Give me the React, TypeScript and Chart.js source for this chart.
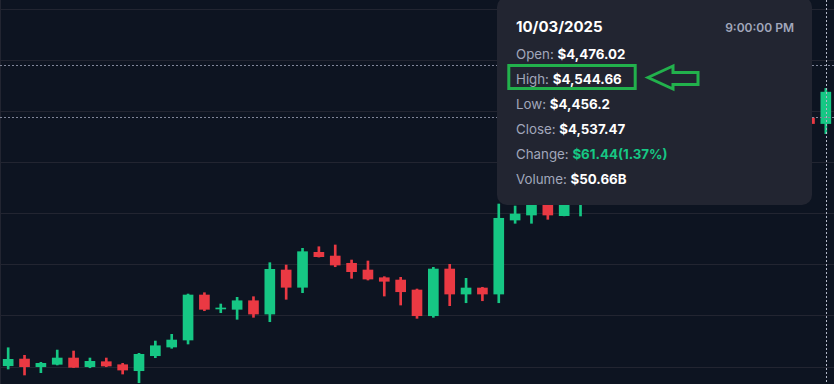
import React, { useEffect, useRef } from "react";
import { Chart, registerables } from "chart.js";

Chart.register(...registerables);

// 4h candles, Sep 25 13:00 -> Oct 3 21:00
const labels = [
  "09/25 13:00", "09/25 17:00", "09/25 21:00",
  "09/26 01:00", "09/26 05:00", "09/26 09:00", "09/26 13:00", "09/26 17:00", "09/26 21:00",
  "09/27 01:00", "09/27 05:00", "09/27 09:00", "09/27 13:00", "09/27 17:00", "09/27 21:00",
  "09/28 01:00", "09/28 05:00", "09/28 09:00", "09/28 13:00", "09/28 17:00", "09/28 21:00",
  "09/29 01:00", "09/29 05:00", "09/29 09:00", "09/29 13:00", "09/29 17:00", "09/29 21:00",
  "09/30 01:00", "09/30 05:00", "09/30 09:00", "09/30 13:00", "09/30 17:00", "09/30 21:00",
  "10/01 01:00", "10/01 05:00", "10/01 09:00", "10/01 13:00", "10/01 17:00", "10/01 21:00",
  "10/02 01:00", "10/02 05:00", "10/02 09:00", "10/02 13:00", "10/02 17:00", "10/02 21:00",
  "10/03 01:00", "10/03 05:00", "10/03 09:00", "10/03 13:00", "10/03 17:00", "10/03 21:00",
];

const opens = [
  4002.5, 4015.6, 4000.6, 4005.3, 4017.6, 4000.6, 4010.4, 4004.5, 3992.8, 4022.1,
  4039.1, 4052.8, 4140.8, 4113.5, 4112.8, 4129.6, 4103.6, 4189.7, 4155.9, 4224.3,
  4217.0, 4202.8, 4189.7, 4174.6, 4170.1, 4150.6, 4100.3, 4191.6, 4142.7, 4154.5,
  4142.7, 4287.4, 4297.2, 4318.5, 4295.9, 4320.0, 4335.0, 4360.0, 4352.0, 4380.0,
  4402.0, 4395.0, 4420.0, 4445.0, 4438.0, 4465.0, 4478.0, 4470.0, 4492.0, 4487.0,
  4476.02,
];
const highs = [
  4037.7, 4022.9, 4009.2, 4033.2, 4031.3, 4017.6, 4017.6, 4007.2, 4026.8, 4050.8,
  4063.9, 4142.7, 4145.3, 4123.2, 4136.3, 4137.5, 4204.0, 4199.4, 4232.1, 4235.2,
  4238.6, 4209.2, 4207.3, 4176.6, 4175.4, 4152.5, 4194.9, 4200.8, 4173.4, 4155.9,
  4318.7, 4314.8, 4322.0, 4330.0, 4328.0, 4338.0, 4368.0, 4372.0, 4390.0, 4410.0,
  4415.0, 4428.0, 4452.0, 4460.0, 4472.0, 4490.0, 4485.0, 4498.0, 4500.0, 4495.0,
  4544.66,
];
const lows = [
  3996.1, 3984.4, 3988.9, 4004.0, 3999.0, 3998.6, 4000.6, 3986.3, 3969.3, 4018.2,
  4036.6, 4045.0, 4110.1, 4106.2, 4093.3, 4097.2, 4088.6, 4132.4, 4145.3, 4215.0,
  4196.1, 4173.4, 4170.1, 4138.8, 4121.2, 4095.2, 4097.2, 4119.9, 4125.7, 4129.6,
  4125.7, 4281.0, 4281.0, 4288.8, 4295.5, 4295.3, 4328.0, 4340.0, 4345.0, 4371.0,
  4385.0, 4388.0, 4412.0, 4430.0, 4432.0, 4455.0, 4460.0, 4462.0, 4478.0, 4470.0,
  4456.2,
];
const closes = [
  4015.0, 4000.6, 4007.2, 4017.6, 3999.4, 4011.1, 4002.0, 3994.1, 4024.8, 4041.6,
  4052.8, 4140.8, 4112.8, 4115.0, 4129.6, 4103.6, 4191.0, 4155.9, 4225.5, 4215.7,
  4199.4, 4186.4, 4172.0, 4167.6, 4147.2, 4100.3, 4191.6, 4142.7, 4154.5, 4142.7,
  4290.8, 4299.2, 4318.5, 4297.2, 4320.0, 4334.0, 4360.0, 4352.0, 4380.0, 4402.0,
  4395.0, 4420.0, 4445.0, 4438.0, 4465.0, 4478.0, 4470.0, 4492.0, 4486.0, 4476.0,
  4537.47,
];

const gridPrices = [4000, 4100, 4200, 4300, 4400, 4500, 4600, 4700];
const crosshairPrices = [4590, 4489];
const crosshairIndex = 50;
const yMin = 3966.8;
const yMax = 4717.6;

const tooltipDate = "10/03/2025";
const tooltipTime = "9:00:00 PM";
const tooltipLabels = ["Open:", "High:", "Low:", "Close:", "Change:", "Volume:"];
const tooltipValues = ["$4,476.02", "$4,544.66", "$4,456.2", "$4,537.47", "$61.44(1.37%)", "$50.66B"];

const BG = "#0d1421";
const GRID = "#222531";
const GREEN = "#16c784";
const RED = "#ea3943";
const TIP_BG = "#222531";
const LABEL = "#a1a7bb";
const MARK = "#22b14c";

const overlayPlugin = {
  id: "overlayLines",
  afterDatasetsDraw(chart: any) {
    const { ctx, chartArea, scales } = chart;
    ctx.save();
    ctx.strokeStyle = GRID;
    ctx.lineWidth = 1;
    ctx.beginPath();
    ctx.moveTo(0.5, chartArea.top);
    ctx.lineTo(0.5, chartArea.bottom);
    ctx.stroke();

    ctx.setLineDash([2, 2]);
    ctx.strokeStyle = "#80869a";
    crosshairPrices.forEach((p) => {
      const y = Math.round(scales.y.getPixelForValue(p)) + 0.5;
      ctx.beginPath();
      ctx.moveTo(chartArea.left, y);
      ctx.lineTo(chartArea.right, y);
      ctx.stroke();
    });
    ctx.strokeStyle = "#b4b9c8";
    const x = Math.round(scales.x.getPixelForValue(crosshairIndex)) + 0.5;
    ctx.beginPath();
    ctx.moveTo(x, chartArea.top);
    ctx.lineTo(x, chartArea.bottom);
    ctx.stroke();
    ctx.restore();
  },
};

export default function App() {
  const ref = useRef<HTMLCanvasElement | null>(null);

  useEffect(() => {
    if (!ref.current) return;
    const colors = opens.map((o, i) => (closes[i] >= o ? GREEN : RED));
    const chart = new Chart(ref.current, {
      type: "bar",
      data: {
        labels,
        datasets: [
          {
            label: "body",
            data: opens.map((o, i) => [o, closes[i]]) as any,
            backgroundColor: colors,
            borderWidth: 0,
            borderSkipped: false,
            barThickness: 10,
            minBarLength: 1,
            grouped: false,
          } as any,
          {
            label: "wick",
            data: lows.map((l, i) => [l, highs[i]]) as any,
            backgroundColor: colors,
            borderWidth: 0,
            borderSkipped: false,
            barThickness: 2,
            grouped: false,
          } as any,
        ],
      },
      options: {
        responsive: false,
        animation: false,
        maintainAspectRatio: false,
        layout: { padding: 0 },
        plugins: { legend: { display: false }, tooltip: { enabled: false } },
        scales: {
          x: { display: false, offset: true, grid: { display: false } },
          y: {
            display: true,
            min: yMin,
            max: yMax,
            border: { display: false },
            ticks: { display: false },
            grid: { color: GRID, drawTicks: false, lineWidth: 1 },
            afterBuildTicks: (axis: any) => {
              axis.ticks = gridPrices.map((v) => ({ value: v }));
            },
            afterFit: (axis: any) => {
              axis.width = 0;
            },
          } as any,
        },
      },
      plugins: [overlayPlugin],
    });
    return () => chart.destroy();
  }, []);

  return (
    <div
      style={{
        position: "fixed",
        left: 0,
        top: 0,
        width: 834,
        height: 384,
        background: BG,
        overflow: "hidden",
        fontFamily: "Inter, 'Noto Sans', sans-serif",
      }}
    >
      <canvas ref={ref} width={834} height={384} style={{ position: "absolute", left: 0, top: 0, width: 834, height: 384 }} />
      <div
        style={{
          position: "absolute",
          left: 497,
          top: -3,
          width: 315,
          height: 208,
          background: TIP_BG,
          borderRadius: 10,
        }}
      />
      <div
        style={{
          position: "absolute",
          left: 516,
          top: 17.5,
          fontSize: 15,
          fontWeight: 700,
          lineHeight: "18px",
          color: "#ffffff",
          whiteSpace: "nowrap",
        }}
      >
        {tooltipDate}
      </div>
      <div
        style={{
          position: "absolute",
          right: 40,
          top: 19.6,
          fontSize: 12,
          fontWeight: 600,
          lineHeight: "16px",
          color: LABEL,
          whiteSpace: "nowrap",
        }}
      >
        {tooltipTime}
      </div>
      {tooltipLabels.map((lab, i) => (
        <div
          key={lab}
          style={{
            position: "absolute",
            left: 516,
            top: 46.4 + 25 * i,
            fontSize: 13.3,
            lineHeight: "17px",
            whiteSpace: "nowrap",
          }}
        >
          <span style={{ color: LABEL }}>{lab} </span>
          <span style={{ color: i === 4 ? GREEN : "#ffffff", fontWeight: 700 }}>{tooltipValues[i]}</span>
        </div>
      ))}
      <svg width={834} height={384} style={{ position: "absolute", left: 0, top: 0 }}>
        <rect x={508.8} y={65.5} width={126.4} height={23} fill="none" stroke={MARK} strokeWidth={3} />
        <polygon
          points="648,77.5 673,66 673,72.5 698,72.5 698,84.5 673,84.5 673,89"
          fill="none"
          stroke={MARK}
          strokeWidth={3}
        />
      </svg>
    </div>
  );
}
